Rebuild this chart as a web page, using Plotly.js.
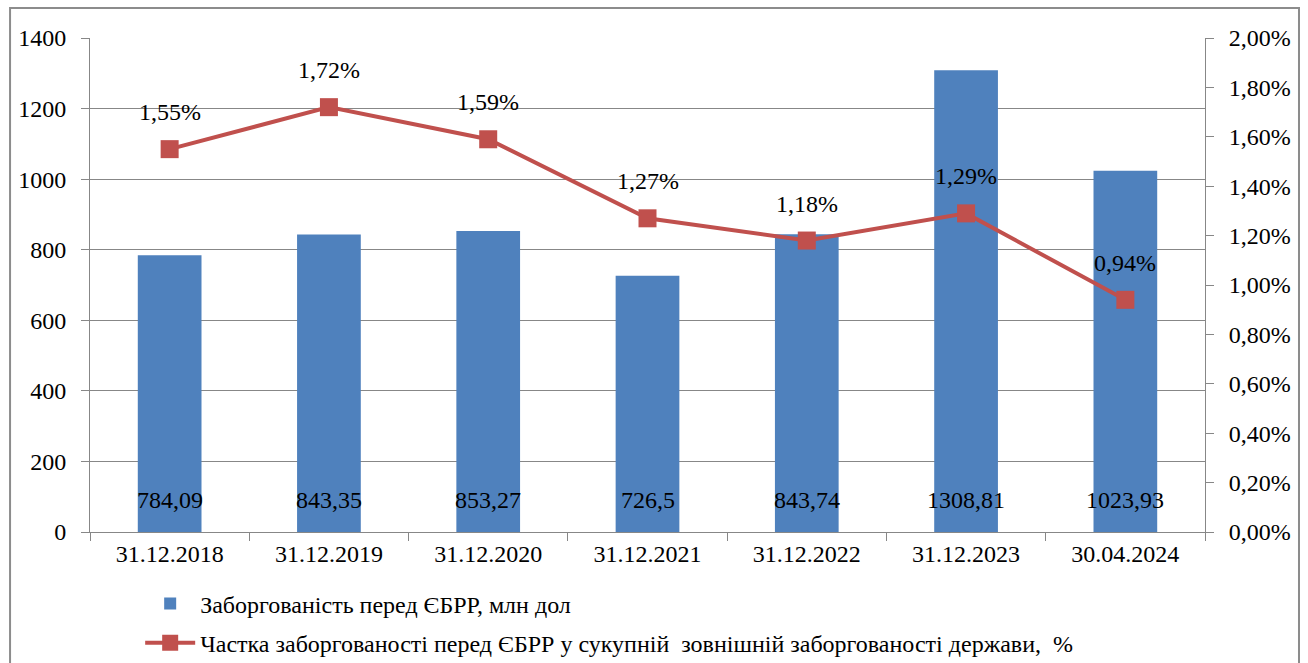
<!DOCTYPE html>
<html><head><meta charset="utf-8">
<script src="https://cdn.plot.ly/plotly-3.0.1.min.js"></script>
<style>html,body{margin:0;padding:0;background:#fff}#chart{width:1308px;height:663px}</style>
</head><body><div id="chart"></div>
<script>
const categories = ['31.12.2018','31.12.2019','31.12.2020','31.12.2021','31.12.2022','31.12.2023','30.04.2024'];
const debt = [784.09, 843.35, 853.27, 726.5, 843.74, 1308.81, 1023.93];
const debtLabels = ['784,09','843,35','853,27','726,5','843,74','1308,81','1023,93'];
const share = [0.0155, 0.0172, 0.0159, 0.0127, 0.0118, 0.0129, 0.0094];
const shareLabels = ['1,55%','1,72%','1,59%','1,27%','1,18%','1,29%','0,94%'];
const leftTicks = [0,200,400,600,800,1000,1200,1400];
const rightTicks = [0,0.002,0.004,0.006,0.008,0.010,0.012,0.014,0.016,0.018,0.020];

const FONT = 'Times New Roman, Liberation Serif, DejaVu Serif, serif';
const fs = 24;

const traces = [
  {type:'bar', x:categories, y:debt, name:'Заборгованість перед ЄБРР, млн дол',
   marker:{color:'#4F81BD'}, width:0.4, legendgroup:'a', hoverinfo:'skip'},
  {type:'scatter', mode:'lines+markers', x:categories, y:share, yaxis:'y2',
   name:'Частка заборгованості перед ЄБРР у сукупній  зовнішній заборгованості держави,  %',
   line:{color:'#C0504D', width:4}, marker:{symbol:'square', size:18, color:'#C0504D'},
   legendgroup:'b', hoverinfo:'skip'}
];

const annotations = [];
categories.forEach((c,i)=>{
  annotations.push({x:c, y:0, xref:'x', yref:'y', text:debtLabels[i], showarrow:false,
    yanchor:'middle', yshift:32, font:{family:FONT, size:fs, color:'#000'}});
  annotations.push({x:c, y:share[i], xref:'x', yref:'y2', text:shareLabels[i], showarrow:false,
    yanchor:'middle', yshift:37, font:{family:FONT, size:fs, color:'#000'}});
});

const layout = {
  width:1308, height:663,
  margin:{l:90, r:103, t:38, b:131, autoexpand:false},
  paper_bgcolor:'#fff', plot_bgcolor:'#fff',
  font:{family:FONT, size:fs, color:'#000'},
  separators:', ',
  showlegend:true,
  legend:{orientation:'v', x:0.045, xanchor:'left', y:-0.1, yanchor:'top', itemwidth:50,
    font:{family:FONT, size:fs, color:'#000'}, tracegroupgap:5, bgcolor:'rgba(0,0,0,0)'},
  xaxis:{type:'category', showline:true, linecolor:'#878787', linewidth:1,
    ticks:'outside', tickson:'boundaries', ticklen:8, tickcolor:'#878787',
    showgrid:false, tickfont:{family:FONT, size:fs}, fixedrange:true},
  yaxis:{range:[0,1400], tickvals:leftTicks, showline:true, linecolor:'#878787', linewidth:1,
    ticks:'outside', ticklen:8, tickcolor:'#878787', showgrid:true, gridcolor:'#878787', gridwidth:1,
    zeroline:false, tickfont:{family:FONT, size:fs}, ticklabelstandoff:10},
  yaxis2:{overlaying:'y', side:'right', range:[0,0.02], tickvals:rightTicks, tickformat:'.2%',
    showline:true, linecolor:'#878787', linewidth:1, ticks:'outside', ticklen:8, tickcolor:'#878787',
    showgrid:false, zeroline:false, tickfont:{family:FONT, size:fs}, ticklabelstandoff:10},
  annotations:annotations,
  shapes:[{type:'rect', xref:'paper', yref:'paper', x0:-0.0717, x1:1.0843, y0:-0.3, y1:1.0607,
    line:{color:'#8c8c8c', width:2}, fillcolor:'rgba(0,0,0,0)', layer:'below'}]
};

Plotly.newPlot('chart', traces, layout, {displayModeBar:false, staticPlot:true});
</script></body></html>
